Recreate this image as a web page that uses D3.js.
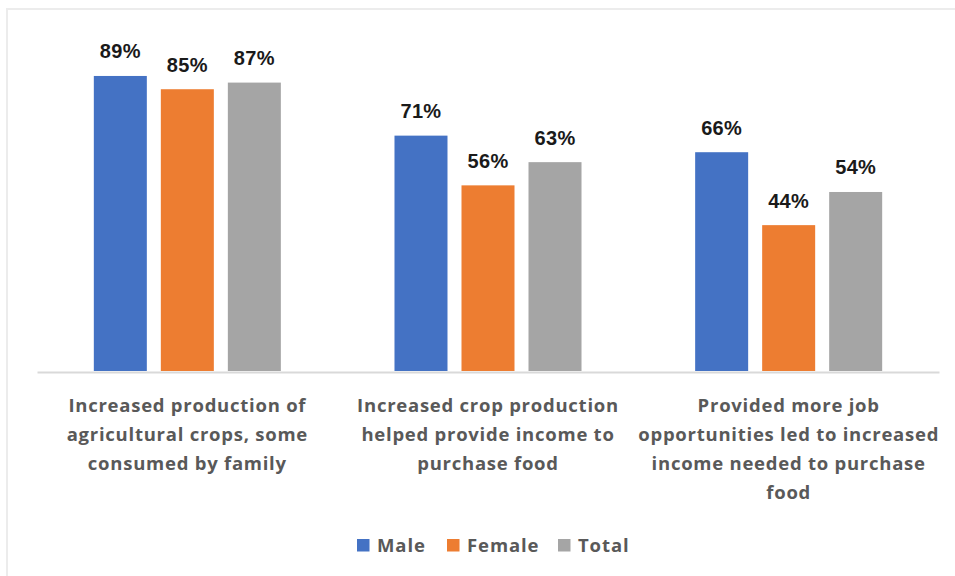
<!DOCTYPE html>
<html>
<head>
<meta charset="utf-8">
<script src="https://cdn.jsdelivr.net/npm/d3@7"></script>
<style>
  html, body { margin: 0; padding: 0; background: #fff; }
  svg { display: block; }
</style>
</head>
<body>
<svg id="chart" width="955" height="576"></svg>
<script>
// ---- data ----
const categories = ["cat1", "cat2", "cat3"];
const categoryLabels = [
  ["Increased production of", "agricultural crops, some", "consumed by family"],
  ["Increased crop production", "helped provide income to", "purchase food"],
  ["Provided more job", "opportunities led to increased", "income needed to purchase", "food"]
];
const seriesNames = ["Male", "Female", "Total"];
const seriesColors = ["#4472C4", "#ED7D31", "#A5A5A5"];
const maleValues = [0.89, 0.71, 0.66];
const femaleValues = [0.85, 0.56, 0.44];
const totalValues = [0.87, 0.63, 0.54];

const seriesValues = [maleValues, femaleValues, totalValues];

const svg = d3.select("#chart");

// frame
svg.append("rect")
  .attr("x", 7).attr("y", 9).attr("width", 1000).attr("height", 600)
  .attr("fill", "#fff").attr("stroke", "#ececec").attr("stroke-width", 2);

const x0 = d3.scaleBand().domain(categories).range([37, 939]).paddingInner(0).paddingOuter(0);
const x1 = d3.scaleBand().domain(seriesNames).range([0, x0.bandwidth()]).paddingInner(0.209).paddingOuter(0.848);
const y = d3.scaleLinear().domain([0, 1]).range([371, 39.5]);
const color = d3.scaleOrdinal().domain(seriesNames).range(seriesColors);

const data = [];
categories.forEach((c, i) => {
  seriesNames.forEach((s, j) => data.push({ cat: c, series: s, value: seriesValues[j][i] }));
});

// bars
svg.append("g").selectAll("rect").data(data).join("rect")
  .attr("x", d => x0(d.cat) + x1(d.series))
  .attr("y", d => y(d.value))
  .attr("width", x1.bandwidth())
  .attr("height", d => y(0) - y(d.value))
  .attr("fill", d => color(d.series));

// value labels
svg.append("g").selectAll("text").data(data).join("text")
  .attr("x", d => x0(d.cat) + x1(d.series) + x1.bandwidth() / 2)
  .attr("y", d => y(d.value) - 17.5)
  .attr("text-anchor", "middle")
  .attr("font-family", "'Liberation Sans', Arial, sans-serif")
  .attr("font-weight", "bold")
  .attr("font-size", 20)
  .attr("letter-spacing", 0.3)
  .attr("fill", "#1a1a1a")
  .text(d => d3.format(".0%")(d.value));

// axis
const xAxis = d3.axisBottom(x0).tickSize(0).tickFormat("");
const ax = svg.append("g").attr("transform", "translate(0,372)").call(xAxis);
ax.select(".domain").attr("stroke", "#d9d9d9").attr("stroke-width", 2);

// category labels
categories.forEach((c, i) => {
  const t = svg.append("text")
    .attr("x", x0(c) + x0.bandwidth() / 2)
    .attr("y", 411.5)
    .attr("text-anchor", "middle")
    .attr("font-family", "'Open Sans', 'Liberation Sans', sans-serif")
    .attr("font-weight", "bold")
    .attr("font-size", 18.5)
    .attr("letter-spacing", 0.75)
    .attr("fill", "#595959");
  categoryLabels[i].forEach((line, k) => {
    t.append("tspan").attr("x", x0(c) + x0.bandwidth() / 2).attr("dy", k === 0 ? 0 : 29.3).text(line);
  });
});

// legend
const legendX = [357, 447, 558];
const lg = svg.append("g");
seriesNames.forEach((s, i) => {
  lg.append("rect").attr("x", legendX[i]).attr("y", 539).attr("width", 12.5).attr("height", 12.5).attr("fill", color(s));
  lg.append("text").attr("x", legendX[i] + 20).attr("y", 551.5)
    .attr("font-family", "'Open Sans', 'Liberation Sans', sans-serif")
    .attr("font-weight", "bold").attr("font-size", 18.5).attr("letter-spacing", 0.9)
    .attr("fill", "#595959").text(s);
});
</script>
</body>
</html>
